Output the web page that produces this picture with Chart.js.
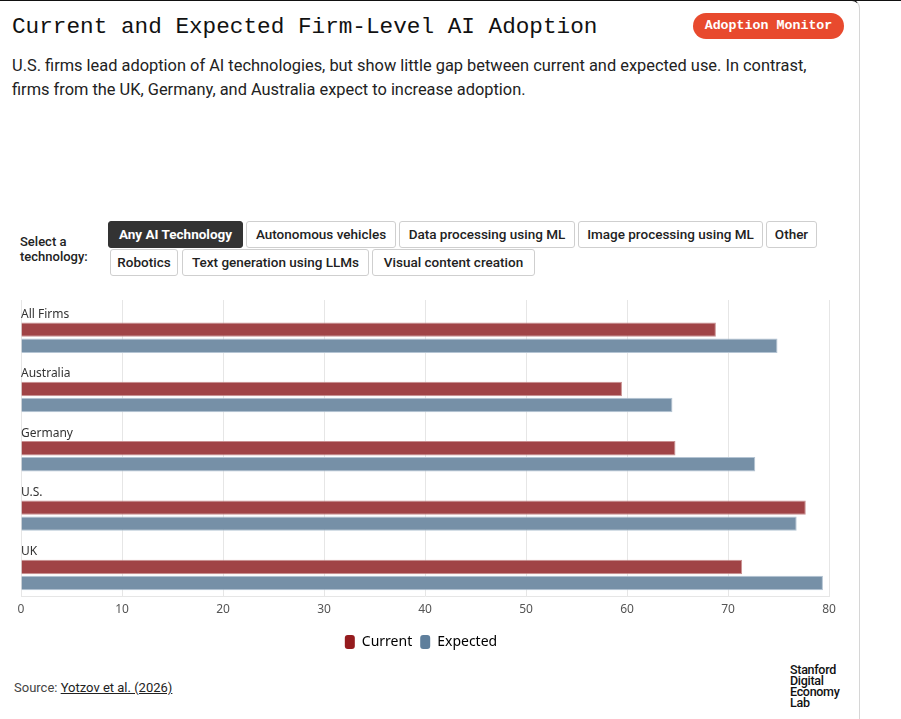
<!DOCTYPE html>
<html>
<head>
<meta charset="utf-8">
<script src="https://cdn.jsdelivr.net/npm/chart.js@4/dist/chart.umd.min.js"></script>
<style>
  html, body { margin: 0; padding: 0; background: #fff; }
  body { width: 901px; height: 719px; position: relative; overflow: hidden; font-family: 'Roboto', 'Noto Sans', sans-serif; }
  .top-line { position: absolute; left: 0; top: 0; width: 901px; height: 1px; background: #111; }
  .card { position: absolute; left: 0; top: 0; width: 860px; height: 730px; border-top: 1px solid #111; border-right: 1px solid #d6d6d6; border-top-right-radius: 8px; box-sizing: border-box; }
  .title { position: absolute; left: 12px; top: 14px; font-family: 'Liberation Mono', 'DejaVu Sans Mono', monospace; font-size: 22.7px; line-height: 26px; color: #111; white-space: nowrap; }
  .badge { position: absolute; left: 693px; top: 13px; width: 151px; height: 26px; border-radius: 13px; background: #e84a2e; color: #fff; font-family: 'Liberation Mono', 'DejaVu Sans Mono', monospace; font-weight: bold; font-size: 13.3px; line-height: 26px; text-align: center; }
  .subtitle { position: absolute; left: 12px; top: 54px; width: 805px; font-size: 16.4px; line-height: 24px; color: #222; }
  .select-label { position: absolute; left: 20px; top: 234px; font-size: 13px; line-height: 15px; font-weight: 500; color: #222; }
  .btn { position: absolute; height: 27px; box-sizing: border-box; border: 1px solid #cfcfcf; border-radius: 3px; background: #fff; color: #222; font-size: 13.5px; font-weight: 500; line-height: 25px; text-align: center; white-space: nowrap; }
  .btn.active { background: #333; border-color: #333; color: #fff; font-weight: 700; }
  .chart-box { position: absolute; left: 0; top: 290px; width: 850px; height: 369px; }
  .source { position: absolute; left: 14px; top: 680px; font-size: 13px; color: #444; }
  .source a { color: #222; text-decoration: underline; }
  .logo { position: absolute; left: 790px; top: 664px; font-family: 'Liberation Sans Narrow', 'Roboto', sans-serif; font-size: 12.5px; line-height: 11px; font-weight: 500; color: #111; letter-spacing: -0.3px; }
</style>
</head>
<body>
<div class="top-line"></div>
<div class="card"></div>
<div class="title">Current and Expected Firm-Level AI Adoption</div>
<div class="badge">Adoption Monitor</div>
<div class="subtitle">U.S. firms lead adoption of AI technologies, but show little gap between current and expected use. In contrast, firms from the UK, Germany, and Australia expect to increase adoption.</div>

<div class="select-label">Select a<br>technology:</div>
<div class="btn active" style="left:108px;top:221px;width:135px;">Any AI Technology</div>
<div class="btn" style="left:246px;top:221px;width:150px;">Autonomous vehicles</div>
<div class="btn" style="left:399px;top:221px;width:176px;">Data processing using ML</div>
<div class="btn" style="left:578px;top:221px;width:185px;">Image processing using ML</div>
<div class="btn" style="left:766px;top:221px;width:51px;">Other</div>
<div class="btn" style="left:110px;top:249px;width:68px;">Robotics</div>
<div class="btn" style="left:182px;top:249px;width:187px;">Text generation using LLMs</div>
<div class="btn" style="left:372px;top:249px;width:163px;">Visual content creation</div>

<div class="chart-box"><canvas id="adoption"></canvas></div>

<div class="source">Source: <a href="#">Yotzov et al. (2026)</a></div>
<div class="logo">Stanford<br>Digital<br>Economy<br>Lab</div>

<script>
// Данные графика
const categories = ['All Firms', 'Australia', 'Germany', 'U.S.', 'UK'];
const currentValues = [68.8, 59.5, 64.8, 77.7, 71.4];
const expectedValues = [74.9, 64.5, 72.7, 76.8, 79.4];
const seriesNames = ['Current', 'Expected'];
const axisMin = 0;
const axisMax = 80;
const axisStep = 10;

// Цвета
const barColors = ['#a04346', '#7690a7'];
const barBorders = ['#c98f90', '#b4c4d3'];
const legendColors = ['#951b1e', '#5f7f9c'];

Chart.defaults.font.family = "'Noto Sans', 'Inter', sans-serif";
Chart.defaults.font.size = 12;
Chart.defaults.color = '#555';

// Отступ под подпись категории: пустой набор занимает верхний слот
const spacer = {
  label: '',
  data: categories.map(() => null),
  backgroundColor: 'rgba(0,0,0,0)',
  borderWidth: 0,
};

const chart = new Chart(document.getElementById('adoption'), {
  type: 'bar',
  data: {
    labels: categories,
    datasets: [
      spacer,
      {
        label: seriesNames[0],
        data: currentValues,
        backgroundColor: barColors[0],
        borderColor: barBorders[0],
        borderWidth: 1,
      },
      {
        label: seriesNames[1],
        data: expectedValues,
        backgroundColor: barColors[1],
        borderColor: barBorders[1],
        borderWidth: 1,
      },
    ],
  },
  options: {
    indexAxis: 'y',
    responsive: true,
    maintainAspectRatio: false,
    animation: false,
    categoryPercentage: 0.81,
    barPercentage: 0.9,
    layout: {
      padding: { top: 10, left: 13, right: 21, bottom: 0 },
    },
    scales: {
      x: {
        min: axisMin,
        max: axisMax,
        ticks: {
          stepSize: axisStep,
          padding: 6,
          color: '#555',
          font: { size: 12 },
        },
        grid: {
          color: '#e6e6e6',
          drawTicks: false,
        },
        border: {
          display: true,
          color: '#e6e6e6',
        },
        // место между подписями оси и легендой
        afterFit: (scale) => {
          scale.height += 4;
        },
      },
      y: {
        ticks: {
          mirror: true,
          padding: 0,
          labelOffset: -15,
          color: '#333',
          font: { size: 12 },
        },
        grid: { display: false },
        border: { display: false },
      },
    },
    plugins: {
      tooltip: { enabled: false },
      legend: {
        position: 'bottom',
        labels: {
          boxWidth: 10,
          boxHeight: 14,
          padding: 8,
          useBorderRadius: true,
          borderRadius: 3,
          color: '#444',
          font: { size: 14 },
          generateLabels: (ch) => ch.data.datasets
            .map((ds, i) => ({ ds, i }))
            .filter(({ ds }) => ds.label)
            .map(({ ds, i }) => ({
              text: ds.label,
              datasetIndex: i,
              fillStyle: legendColors[i - 1],
              strokeStyle: legendColors[i - 1],
              lineWidth: 0,
              hidden: false,
              borderRadius: 3,
            })),
        },
      },
    },
  },
});
</script>
</body>
</html>
